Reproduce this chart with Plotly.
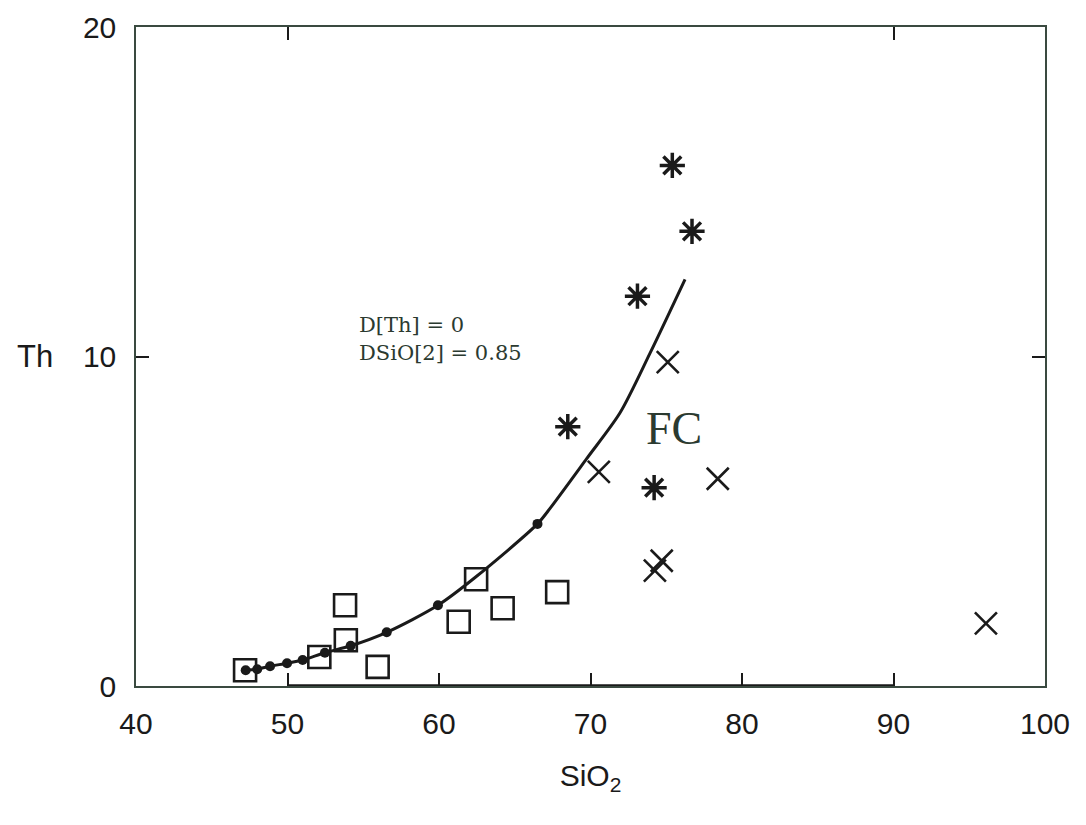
import plotly.graph_objects as go

# Data (SiO2 vs Th)
square_sio2 = [47.2, 52.1, 53.8, 53.85, 55.95, 62.45, 61.3, 64.2, 67.8]
square_th = [0.48, 0.88, 2.45, 1.39, 0.58, 3.24, 1.95, 2.36, 2.85]

star_sio2 = [75.4, 76.7, 73.1, 68.5, 74.2]
star_th = [15.8, 13.8, 11.83, 7.87, 6.02]

cross_sio2 = [75.1, 70.55, 78.4, 74.7, 74.25, 96.1]
cross_th = [9.83, 6.5, 6.29, 3.8, 3.5, 1.9]

# FC model curve (D[Th] = 0, DSiO2 = 0.85)
curve_sio2 = [47.24, 48.0, 48.85, 49.97, 51.0, 52.47, 54.17, 56.55, 59.93, 62.4,
              66.5, 67.33, 69.75, 71.95, 73.93, 76.24]
curve_th = [0.48, 0.51, 0.6, 0.69, 0.79, 1.01, 1.22, 1.63, 2.45, 3.3,
            4.92, 5.39, 6.9, 8.29, 10.1, 12.34]

# tick marks placed along the curve
step_sio2 = [47.24, 48.0, 48.85, 49.97, 51.0, 52.47, 54.17, 56.55, 59.93, 66.5]
step_th = [0.48, 0.51, 0.6, 0.69, 0.79, 1.01, 1.22, 1.63, 2.45, 4.92]

x_ticks = [40, 50, 60, 70, 80, 90, 100]
x_ticks_top = [50, 90]
y_ticks = [0, 10, 20]
thick_base = [50, 90]

ink = "#1a1a1a"
frame = "#3a4a40"
note = "#2b3a30"

fig = go.Figure()

fig.add_trace(go.Scatter(
    x=curve_sio2, y=curve_th, mode="lines",
    line=dict(color=ink, width=3, shape="spline", smoothing=0.8),
    hoverinfo="skip"))

fig.add_trace(go.Scatter(
    x=step_sio2, y=step_th, mode="markers",
    marker=dict(symbol="circle", size=10, color=ink)))

fig.add_trace(go.Scatter(
    x=square_sio2, y=square_th, mode="markers",
    marker=dict(symbol="square-open", size=22, color=ink, line=dict(width=2.6))))

fig.add_trace(go.Scatter(
    x=star_sio2, y=star_th, mode="markers",
    marker=dict(symbol="asterisk-open", size=21, color=ink, line=dict(width=3.5, color=ink))))

fig.add_trace(go.Scatter(
    x=cross_sio2, y=cross_th, mode="markers",
    marker=dict(symbol="x-thin-open", size=22, color=ink, line=dict(width=2.6, color=ink))))

# empty trace on the top axis so its ticks get drawn
fig.add_trace(go.Scatter(x=x_ticks_top, y=[None, None], xaxis="x2", mode="markers",
                         showlegend=False, hoverinfo="skip"))

# thicker segment along the bottom axis
fig.add_shape(type="line", xref="x", yref="y",
              x0=thick_base[0], x1=thick_base[1], y0=0, y1=0,
              line=dict(color=ink, width=3.5))

fig.add_annotation(x=54.6, y=10.97, xref="x", yref="y", text="D[Th] = 0", showarrow=False,
                   xanchor="left", yanchor="middle",
                   font=dict(family="DejaVu Serif", size=21, color=note))
fig.add_annotation(x=54.6, y=10.12, xref="x", yref="y", text="DSiO[2] = 0.85", showarrow=False,
                   xanchor="left", yanchor="middle",
                   font=dict(family="DejaVu Serif", size=21, color=note))
fig.add_annotation(x=75.5, y=7.8, xref="x", yref="y", text="FC", showarrow=False,
                   font=dict(family="Liberation Serif", size=46, color=note))
fig.add_annotation(x=-0.089, y=10, xref="paper", yref="y", text="Th", showarrow=False,
                   xanchor="right", font=dict(family="Liberation Sans", size=31, color=ink))

axis_common = dict(showgrid=False, zeroline=False, showline=True, linecolor=frame,
                   linewidth=1.5, ticks="inside", ticklen=13,
                   tickwidth=2, tickcolor=ink,
                   tickfont=dict(family="Liberation Sans", size=30, color=ink))

fig.update_layout(
    width=1086, height=825,
    margin=dict(l=128, r=49, t=19, b=147, autoexpand=False),
    paper_bgcolor="white", plot_bgcolor="white",
    showlegend=False,
    xaxis=dict(range=[40, 100], tickvals=x_ticks, ticklabelstandoff=10, mirror=True,
               title=dict(text="SiO<sub>2</sub>", standoff=26,
                          font=dict(family="Liberation Sans", size=30, color=ink)),
               **axis_common),
    xaxis2=dict(range=[40, 100], overlaying="x", side="top", tickvals=x_ticks_top,
                showticklabels=False, showgrid=False, zeroline=False, ticks="inside",
                ticklen=13, tickwidth=2, tickcolor=ink, showline=False, automargin=False),
    yaxis=dict(range=[0, 20], tickvals=y_ticks, ticklabelstandoff=12, mirror="ticks",
               **axis_common),
)

fig.write_html("out.html")
